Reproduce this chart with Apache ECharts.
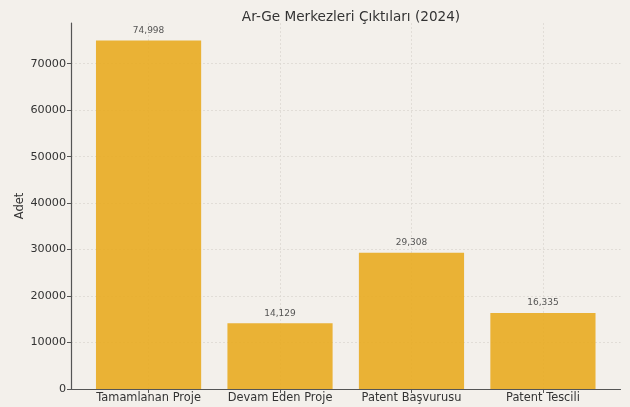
<!DOCTYPE html>
<html><head><meta charset="utf-8">
<script src="https://cdn.jsdelivr.net/npm/echarts@6/dist/echarts.min.js"></script>
<style>html,body{margin:0;padding:0;background:#f3f0eb;}#c{width:630px;height:407px;}</style>
</head><body><div id="c"></div>
<script>
const categories = ['Tamamlanan Proje', 'Devam Eden Proje', 'Patent Başvurusu', 'Patent Tescili'];
const values = [74998, 14129, 29308, 16335];
const yTicks = [0, 10000, 20000, 30000, 40000, 50000, 60000, 70000];
const titleText = 'Ar-Ge Merkezleri Çıktıları (2024)';
const yName = 'Adet';

const chart = echarts.init(document.getElementById('c'), null, {renderer: 'canvas'});
const font = 'DejaVu Sans';
const catIdx = categories.map((_, i) => i);
const gridLine = {show: true, lineStyle: {color: '#dcd8d2', type: [2, 2], width: 0.8}};
chart.setOption({
  backgroundColor: '#f3f0eb',
  animation: false,
  title: {text: titleText, left: 346, top: 5, textAlign: 'center',
    textStyle: {fontFamily: font, fontSize: 13.6, fontWeight: 'normal', color: '#333'}},
  grid: {left: 71, right: 9.5, top: 23, bottom: 18, containLabel: false, outerBoundsMode: 'none'},
  xAxis: {
    type: 'value', min: -0.59, max: 3.59,
    axisLine: {show: true, onZero: false, lineStyle: {color: '#555', width: 1.2}},
    axisTick: {show: true, customValues: catIdx, length: 4, lineStyle: {color: '#555'}},
    axisLabel: {customValues: catIdx, formatter: v => categories[Math.round(v)] || '',
      fontFamily: font, fontSize: 11.4, color: '#333', margin: 4},
    splitLine: gridLine
  },
  yAxis: {
    type: 'value', min: 0, max: 78748,
    name: yName, nameLocation: 'middle', nameGap: 45, nameRotate: 90, nameMoveOverlap: false,
    nameTextStyle: {fontFamily: font, fontSize: 11.4, color: '#333'},
    axisLine: {show: true, onZero: false, lineStyle: {color: '#555', width: 1.2}},
    axisTick: {show: true, customValues: yTicks, length: 4, lineStyle: {color: '#555'}},
    axisLabel: {customValues: yTicks, formatter: v => String(v),
      fontFamily: font, fontSize: 11.2, color: '#333', margin: 5},
    splitLine: gridLine
  },
  series: [{
    type: 'bar',
    data: values.map((v, i) => [i, v]),
    barWidth: '80%',
    itemStyle: {color: '#e9ab21', opacity: 0.9},
    label: {show: true, position: 'top', distance: 5.5, fontFamily: font, fontSize: 9, color: '#444',
      formatter: p => p.value[1].toLocaleString('en-US')}
  }]
});
</script></body></html>
